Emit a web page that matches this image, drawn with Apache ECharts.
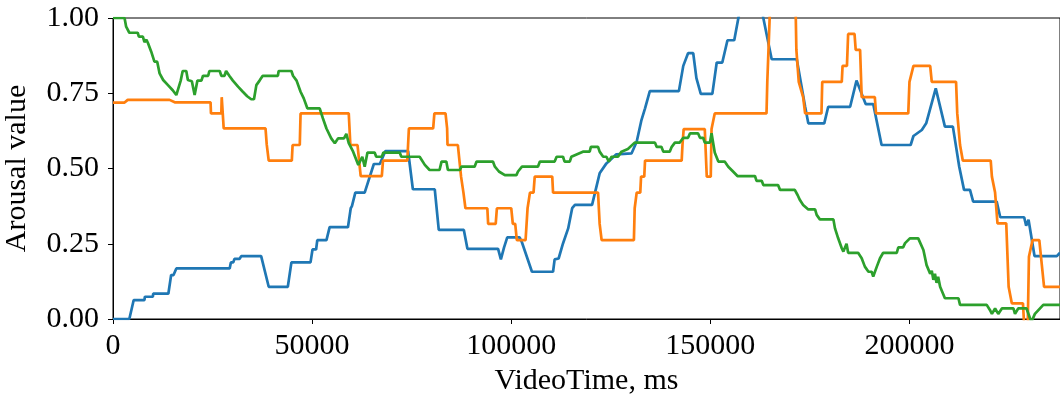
<!DOCTYPE html>
<html>
<head>
<meta charset="utf-8">
<script src="https://cdn.jsdelivr.net/npm/echarts@6/dist/echarts.min.js"></script>
<style>
  html, body { margin: 0; padding: 0; background: #fff; }
  #chart { width: 1060px; height: 398px; }
</style>
</head>
<body>
<div id="chart"></div>
<script>
// [VideoTime ms, arousal]
const blueData = [
  [0, 0], [4100, 0], [5200, 0.063], [7900, 0.063], [8000, 0.074], [10000, 0.074], [10100, 0.084],
  [13900, 0.084], [14600, 0.146], [15200, 0.146], [15900, 0.168], [29300, 0.168], [29600, 0.188],
  [30200, 0.188], [30500, 0.2], [31800, 0.2], [32200, 0.209], [37200, 0.209], [39100, 0.107],
  [43900, 0.107], [44800, 0.188], [49600, 0.188], [50100, 0.231], [51000, 0.231], [51300, 0.262],
  [53600, 0.262], [54400, 0.305], [59000, 0.305], [59700, 0.368], [60000, 0.375], [60850, 0.42],
  [63200, 0.42], [65500, 0.515], [67000, 0.515], [68400, 0.558], [74100, 0.558], [75300, 0.431],
  [80800, 0.431], [81800, 0.296], [88100, 0.296], [89000, 0.233], [96700, 0.233], [97400, 0.198],
  [98200, 0.238], [99000, 0.271], [102100, 0.271], [102700, 0.254], [105200, 0.157], [110500, 0.157],
  [110900, 0.198], [111900, 0.201], [113000, 0.251], [114300, 0.301], [115300, 0.368], [116000, 0.379],
  [120300, 0.379], [122200, 0.484], [123900, 0.517], [126400, 0.547], [130200, 0.55], [131500, 0.589],
  [132700, 0.661], [133600, 0.70], [134800, 0.757], [142100, 0.757], [143200, 0.841], [144400, 0.883],
  [145700, 0.883], [146500, 0.80], [147600, 0.748], [150500, 0.748], [151600, 0.852], [153000, 0.852],
  [154300, 0.926], [156000, 0.926], [157600, 1.04], [162800, 1.04], [163300, 1.0], [165400, 0.863],
  [171700, 0.863], [173800, 0.705], [174600, 0.65], [178600, 0.65], [179600, 0.705], [185100, 0.705],
  [186700, 0.792], [189000, 0.714], [190900, 0.714], [193000, 0.578], [200300, 0.578], [201000, 0.608],
  [203100, 0.628], [204200, 0.65], [206600, 0.766], [208900, 0.639], [210900, 0.639], [212500, 0.506],
  [213700, 0.429], [215200, 0.429], [216000, 0.39], [221900, 0.39], [222800, 0.338], [228800, 0.338],
  [229300, 0.31], [229900, 0.33], [231400, 0.209], [237000, 0.209], [237800, 0.22]
];

const orangeData = [
  [0, 0.719], [2900, 0.719], [3700, 0.728], [14200, 0.728], [15500, 0.72], [24500, 0.72], [24600, 0.683],
  [27200, 0.683], [27300, 0.737], [27600, 0.737], [27800, 0.633], [38300, 0.633], [38600, 0.58],
  [39100, 0.526], [44900, 0.526], [45100, 0.578], [46900, 0.578], [47100, 0.683], [59200, 0.683],
  [59600, 0.578], [61400, 0.578], [62200, 0.475], [67500, 0.475], [67800, 0.526], [73900, 0.526],
  [74300, 0.633], [80400, 0.633], [80700, 0.683], [83500, 0.683], [83900, 0.633], [84000, 0.578],
  [86600, 0.578], [87400, 0.473], [88000, 0.42], [88500, 0.368], [94000, 0.368], [94200, 0.316],
  [96100, 0.316], [96400, 0.368], [100000, 0.368], [100400, 0.316], [101000, 0.316], [101400, 0.262],
  [103600, 0.262], [104100, 0.368], [104700, 0.42], [105600, 0.42], [105900, 0.473], [110300, 0.473],
  [110500, 0.42], [121800, 0.42], [122200, 0.316], [122700, 0.262], [130800, 0.262], [131000, 0.368],
  [131500, 0.42], [132400, 0.42], [132600, 0.473], [133400, 0.473], [133600, 0.526], [142800, 0.526],
  [143000, 0.578], [143300, 0.631], [148600, 0.631], [149100, 0.473], [150100, 0.473], [150300, 0.631],
  [151100, 0.683], [164100, 0.683], [164300, 0.788], [164600, 0.894], [165000, 1.04], [171400, 1.04],
  [171600, 0.894], [172200, 0.788], [173300, 0.737], [173800, 0.683], [177900, 0.683], [178100, 0.788],
  [183000, 0.788], [183200, 0.841], [184300, 0.841], [184600, 0.947], [186200, 0.947], [186500, 0.894],
  [187600, 0.894], [188000, 0.737], [191300, 0.737], [191600, 0.683], [199700, 0.683], [200000, 0.788],
  [201000, 0.841], [205200, 0.841], [205600, 0.788], [211700, 0.788], [212000, 0.683], [212700, 0.578],
  [213400, 0.526], [220400, 0.526], [220700, 0.473], [221500, 0.42], [222100, 0.318], [224300, 0.318],
  [224900, 0.107], [225700, 0.052], [228500, 0.052], [228800, -0.02], [229700, -0.02], [230000, 0.207],
  [230900, 0.262], [232600, 0.262], [233800, 0.107], [237800, 0.107]
];

const greenData = [
  [0, 1.0], [2900, 1.0], [3300, 0.971], [4100, 0.951], [6200, 0.951], [6500, 0.938], [7500, 0.938],
  [7900, 0.92], [8400, 0.928], [8800, 0.916], [9600, 0.888], [10400, 0.855], [11100, 0.855],
  [11700, 0.816], [12600, 0.794], [13800, 0.777], [15000, 0.76], [15900, 0.744], [17000, 0.792],
  [17500, 0.824], [18400, 0.824], [18800, 0.794], [19800, 0.79], [20500, 0.744], [21200, 0.792],
  [22200, 0.792], [22600, 0.808], [23900, 0.808], [24200, 0.824], [26800, 0.824], [27200, 0.808],
  [28000, 0.808], [28400, 0.824], [29200, 0.808], [30100, 0.792], [31400, 0.772], [32600, 0.755],
  [33700, 0.74], [34700, 0.73], [35400, 0.73], [36000, 0.777], [36800, 0.792], [37600, 0.808],
  [41400, 0.808], [41600, 0.824], [44800, 0.824], [45200, 0.808], [46100, 0.792], [47100, 0.755],
  [47900, 0.733], [48800, 0.70], [51900, 0.70], [52700, 0.667], [53600, 0.633], [54800, 0.60],
  [55700, 0.584], [56500, 0.60], [58000, 0.60], [58600, 0.615], [59200, 0.584], [60300, 0.556],
  [61600, 0.512], [62600, 0.539], [63200, 0.506], [63900, 0.553], [65700, 0.553], [66100, 0.539],
  [67500, 0.539], [67900, 0.553], [72000, 0.553], [72400, 0.539], [77000, 0.539], [78300, 0.512],
  [79500, 0.495], [82000, 0.495], [82500, 0.523], [83700, 0.523], [84100, 0.495], [87100, 0.495],
  [87500, 0.506], [90800, 0.506], [91300, 0.523], [95400, 0.523], [95900, 0.506], [96900, 0.49],
  [98400, 0.478], [101300, 0.478], [101700, 0.49], [102700, 0.506], [106700, 0.506], [107200, 0.523],
  [110900, 0.523], [111400, 0.539], [113000, 0.539], [113400, 0.523], [114700, 0.523], [115100, 0.539],
  [118000, 0.556], [119700, 0.556], [120000, 0.572], [121800, 0.572], [122200, 0.556], [123100, 0.539],
  [123900, 0.539], [124500, 0.523], [125200, 0.539], [126800, 0.539], [127700, 0.556], [129300, 0.565],
  [131000, 0.586], [136100, 0.586], [136500, 0.572], [137700, 0.572], [138200, 0.556], [139800, 0.556],
  [140300, 0.572], [141100, 0.586], [142300, 0.586], [143200, 0.602], [144400, 0.602], [144900, 0.617],
  [146900, 0.617], [147400, 0.602], [148200, 0.602], [148600, 0.586], [149900, 0.586], [150300, 0.617],
  [151100, 0.553], [152000, 0.523], [153600, 0.523], [154500, 0.506], [155700, 0.49], [156800, 0.475],
  [161200, 0.475], [161600, 0.459], [162900, 0.459], [163300, 0.445], [167000, 0.445], [167500, 0.429],
  [171200, 0.429], [171900, 0.412], [172500, 0.395], [173300, 0.379], [174600, 0.364], [176300, 0.364],
  [176700, 0.346], [177500, 0.331], [180900, 0.331], [181300, 0.301], [182100, 0.268], [183000, 0.235],
  [183400, 0.224], [183800, 0.224], [184200, 0.25], [184600, 0.22], [187100, 0.22], [188000, 0.202],
  [188800, 0.174], [189700, 0.157], [190500, 0.157], [190900, 0.141], [191800, 0.174], [192600, 0.202],
  [193400, 0.22], [196800, 0.22], [197200, 0.238], [198400, 0.238], [198900, 0.252], [200100, 0.268],
  [202200, 0.268], [203500, 0.229], [204300, 0.179], [205200, 0.15], [205600, 0.16], [206000, 0.13],
  [206400, 0.15], [206800, 0.12], [207200, 0.14], [207700, 0.107], [208900, 0.069], [212300, 0.069],
  [212700, 0.047], [219400, 0.047], [220200, 0.03], [220700, 0.017], [221500, 0.035], [222300, 0.017],
  [223200, 0.035], [226100, 0.035], [226500, 0.017], [227300, 0.035], [229400, 0.035], [230600, -0.01],
  [231500, 0.017], [233600, 0.047], [237800, 0.047]
];

const xTicks = [0, 50000, 100000, 150000, 200000];
const yTicks = [0, 0.25, 0.5, 0.75, 1.0];

const font = 'Liberation Serif';
const chart = echarts.init(document.getElementById('chart'), null, { renderer: 'canvas' });

function lineSeries(name, data, color) {
  return {
    name: name,
    type: 'line',
    data: data,
    showSymbol: false,
    clip: true,
    lineStyle: { color: color, width: 2.7 },
    itemStyle: { color: color },
    emphasis: { disabled: true },
    animation: false
  };
}

chart.setOption({
  animation: false,
  backgroundColor: '#fff',
  grid: {
    left: 113, right: 0, top: 18, bottom: 79,
    containLabel: false,
    outerBoundsMode: 'none',
    show: true, borderColor: '#000', borderWidth: 1, backgroundColor: 'transparent'
  },
  xAxis: {
    type: 'value',
    min: 0,
    max: 237800,
    interval: xTicks[1] - xTicks[0],
    name: 'VideoTime, ms',
    nameLocation: 'middle',
    nameGap: 46,
    nameTextStyle: { fontFamily: font, fontSize: 30, color: '#000' },
    axisLine: { lineStyle: { color: '#000', width: 1 } },
    axisTick: { length: 5, lineStyle: { color: '#000' } },
    axisLabel: {
      fontFamily: font, fontSize: 30, color: '#000', margin: 12,
      showMaxLabel: false,
      formatter: v => (xTicks.includes(v) ? String(v) : '')
    },
    splitLine: { show: false }
  },
  yAxis: {
    type: 'value',
    min: 0,
    max: 1,
    interval: 0.25,
    name: 'Arousal value',
    nameLocation: 'middle',
    nameGap: 81,
    nameTextStyle: { fontFamily: font, fontSize: 30, color: '#000' },
    axisLine: { show: true, lineStyle: { color: '#000', width: 1 } },
    axisTick: { show: true, length: 5, lineStyle: { color: '#000' } },
    axisLabel: {
      fontFamily: font, fontSize: 30, color: '#000', margin: 14,
      formatter: v => (yTicks.includes(v) ? v.toFixed(2) : '')
    },
    splitLine: { show: false }
  },
  series: [
    lineSeries('blue', blueData, '#1f77b4'),
    lineSeries('orange', orangeData, '#ff7f0e'),
    lineSeries('green', greenData, '#2ca02c')
  ]
});
</script>
</body>
</html>
